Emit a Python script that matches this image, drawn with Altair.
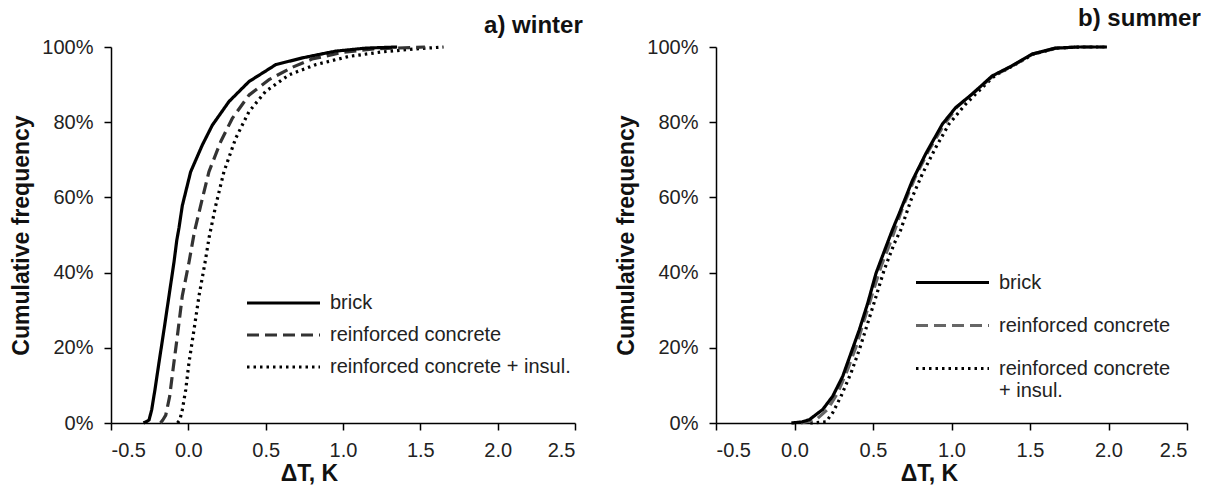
import altair as alt
import pandas as pd

series = ["brick", "reinforced concrete", "reinforced concrete + insul."]
x_ticks = [-0.5, 0.0, 0.5, 1.0, 1.5, 2.0, 2.5]
y_ticks = [0.0, 0.2, 0.4, 0.6, 0.8, 1.0]

# ---- a) winter ----
w_brick_x = [-0.29, -0.265, -0.254, -0.237, -0.216, -0.19, -0.157, -0.125, -0.093, -0.075, -0.06, -0.039,
             0.015, 0.09, 0.155, 0.263, 0.392, 0.565, 0.737, 0.952, 1.146, 1.35]
w_brick_f = [0, 0.5, 0.8, 3.5, 8.8, 16.0, 24.9, 33.8, 42.7, 48.5, 52.0, 57.8,
             66.8, 73.9, 79.2, 85.5, 90.8, 95.3, 97.1, 98.9, 99.7, 100]
w_rc_x = [-0.18, -0.165, -0.146, -0.121, -0.099, -0.071, -0.039, 0.004, 0.04, 0.09, 0.133, 0.209,
          0.284, 0.392, 0.521, 0.672, 0.8, 1.0, 1.2, 1.53]
w_rc_f = [0, 0.8, 2.1, 7.0, 14.2, 23.1, 33.8, 42.7, 51.0, 59.6, 66.8, 74.8,
          81.0, 87.2, 91.3, 94.6, 96.8, 98.6, 99.5, 100]
w_ins_x = [-0.07, -0.055, -0.039, -0.017, 0.004, 0.037, 0.069, 0.108, 0.135, 0.177, 0.23, 0.306,
           0.392, 0.5, 0.651, 0.823, 1.039, 1.254, 1.47, 1.65]
w_ins_f = [0, 0.8, 3.5, 8.8, 16.0, 24.9, 33.8, 42.7, 49.5, 57.8, 66.8, 75.7,
           82.8, 88.2, 92.6, 95.3, 97.5, 98.7, 99.5, 100]

# ---- b) summer ----
s_brick_x = [-0.02, 0.05, 0.095, 0.18, 0.243, 0.307, 0.36, 0.413, 0.466, 0.519, 0.582, 0.625, 0.667,
             0.751, 0.836, 0.942, 1.027, 1.132, 1.259, 1.386, 1.513, 1.662, 1.81, 1.99]
s_brick_f = [0, 0.3, 0.9, 3.6, 7.1, 12.4, 18.6, 24.8, 31.8, 39.8, 46.8, 51.5, 55.7,
             64.5, 71.6, 79.5, 83.9, 87.5, 92.3, 95.0, 98.1, 99.7, 100, 100]
s_rc_x = [0.04, 0.138, 0.211, 0.275, 0.338, 0.392, 0.444, 0.497, 0.55, 0.624, 0.69, 0.77,
          0.855, 0.955, 1.035, 1.14, 1.265, 1.39, 1.515, 1.665, 1.81, 1.98]
s_rc_f = [0, 0.9, 3.6, 8.0, 14.2, 20.3, 27.4, 34.5, 41.5, 49.5, 57.5, 65.5,
          72.5, 79.5, 84.0, 87.8, 92.3, 95.0, 98.1, 99.7, 100, 100]
s_ins_x = [0.1, 0.2, 0.243, 0.296, 0.36, 0.413, 0.466, 0.519, 0.571, 0.635, 0.676, 0.741,
           0.815, 0.9, 0.984, 1.09, 1.217, 1.28, 1.4, 1.52, 1.67, 1.82, 1.97]
s_ins_f = [0, 0.3, 2.7, 7.1, 13.3, 19.5, 26.5, 33.6, 40.7, 47.7, 51.3, 59.2,
           66.3, 73.3, 79.5, 84.8, 90.1, 92.5, 95.2, 98.1, 99.7, 100, 100]

FONT = "Liberation Sans"


def frame(xs_list, fs_list):
    rows = []
    # draw order: dotted, dashed, solid on top
    for name, xs, fs in reversed(list(zip(series, xs_list, fs_list))):
        for i, (x, f) in enumerate(zip(xs, fs)):
            rows.append({"series": name, "dT": x, "cf": f / 100.0, "i": i})
    return pd.DataFrame(rows)


def panel(df, title, title_dx, title_offset, dash_color, legend, x_title_x, width, height):
    xlabel = "datum.value < 0 ? '-' + format(-datum.value, '.1f') : format(datum.value, '.1f')"
    return alt.Chart(df).mark_line(strokeWidth=3.2, strokeCap="butt", strokeJoin="round").encode(
        x=alt.X("dT:Q",
                scale=alt.Scale(domain=[-0.5, 2.5], nice=False, zero=False),
                axis=alt.Axis(values=x_ticks, labelExpr=xlabel, title="ΔT, K",
                              titleX=x_title_x, titlePadding=2, labelPadding=10)),
        y=alt.Y("cf:Q",
                scale=alt.Scale(domain=[0, 1], nice=False),
                axis=alt.Axis(values=y_ticks, format=".0%", title="Cumulative frequency",
                              titlePadding=8, labelPadding=11)),
        color=alt.Color("series:N",
                        scale=alt.Scale(domain=series, range=["#000000", dash_color, "#000000"]),
                        legend=legend),
        strokeDash=alt.StrokeDash("series:N",
                                  scale=alt.Scale(domain=series, range=[[1, 0], [12, 6], [2.5, 4]]),
                                  legend=legend),
        order=alt.Order("i:Q"),
    ).properties(
        width=width, height=height,
        title=alt.TitleParams(title, anchor="end", fontSize=24, font=FONT, fontWeight="bold",
                              color="#111111", dx=title_dx, offset=title_offset),
    )


legend_a = alt.Legend(title=None, orient="none", legendX=134, legendY=240, symbolType="stroke",
                      symbolSize=5330, symbolStrokeWidth=3, clipHeight=32, rowPadding=0,
                      labelFontSize=20, labelFont=FONT, labelOffset=8, labelLimit=500,
                      labelColor="#222222", padding=0)
legend_b = alt.Legend(title=None, orient="none", legendX=198, legendY=214, symbolType="stroke",
                      symbolSize=5330, symbolStrokeWidth=3, clipHeight=43, rowPadding=0,
                      labelFontSize=20, labelFont=FONT, labelOffset=8, labelLimit=500,
                      labelColor="#222222", padding=0,
                      labelExpr="datum.label == 'reinforced concrete + insul.' ? ['reinforced concrete', '+ insul.'] : datum.label")

left = panel(frame([w_brick_x, w_rc_x, w_ins_x], [w_brick_f, w_rc_f, w_ins_f]),
             "a) winter", 7, -1, "#333333", legend_a, 198, 464, 376)
right = panel(frame([s_brick_x, s_rc_x, s_ins_x], [s_brick_f, s_rc_f, s_ins_f]),
              "b) summer", 13, 6, "#666666", legend_b, 213, 471, 376)

chart = alt.hconcat(left, right, spacing=32).resolve_scale(
    color="independent", strokeDash="independent"
).resolve_legend(
    color="independent", strokeDash="independent"
).properties(
    padding={"left": 10, "top": 7, "right": 0, "bottom": 0},
    background="white",
).configure_view(stroke=None).configure_axis(
    grid=False, domainColor="#000000", domainWidth=1.5, tickColor="#000000", tickWidth=1.5,
    tickSize=7, labelFont=FONT, labelFontSize=20, labelColor="#222222",
    titleFont=FONT, titleFontSize=23, titleFontWeight="bold", titleColor="#111111"
)

chart.save("out.html", embed_options={"renderer": "svg", "actions": False})
